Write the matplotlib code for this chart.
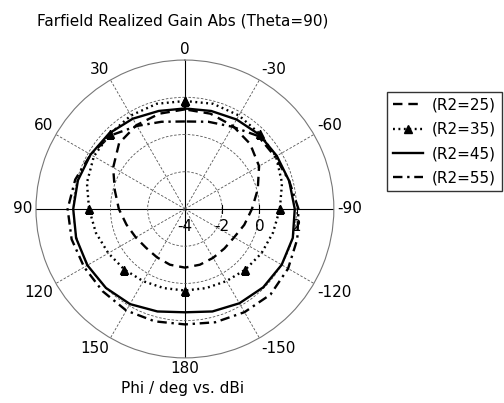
import numpy as np
import matplotlib
matplotlib.use("Agg")
import matplotlib.pyplot as plt
import matplotlib.transforms as mtransforms

# phi in degrees (CST convention: positive counter-clockwise, 0 at top)
phi_deg = [0, 15, 30, 45, 60, 75, 90, 105, 120, 135, 150, 165, 180,
           195, 210, 225, 240, 255, 270, 285, 300, 315, 330, 345, 360]

# realized gain in dBi
gain_r25 = [1.35, 1.3, 1.2, 1.0, 0.45, -0.1, -0.45, -0.75, -0.95, -1.05, -1.0, -0.9, -0.85,
            -0.9, -0.97, -1.0, -0.95, -0.7, -0.4, 0.05, 0.6, 0.95, 1.15, 1.3, 1.35]
gain_r35 = [1.8, 1.85, 1.8, 1.7, 1.65, 1.45, 1.15, 0.95, 0.75, 0.6, 0.48, 0.4, 0.38,
            0.4, 0.47, 0.6, 0.75, 0.9, 1.1, 1.4, 1.65, 1.7, 1.8, 1.85, 1.8]
gain_r45 = [1.4, 1.45, 1.6, 1.75, 1.85, 1.95, 2.0, 2.05, 2.05, 2.0, 1.9, 1.7, 1.55,
            1.7, 1.85, 1.95, 2.0, 2.0, 1.9, 1.8, 1.7, 1.65, 1.55, 1.45, 1.4]
gain_r55 = [0.7, 0.85, 1.15, 1.6, 1.85, 2.1, 2.3, 2.3, 2.25, 2.25, 2.3, 2.25, 2.2,
            2.3, 2.4, 2.5, 2.4, 2.25, 2.1, 1.8, 1.6, 1.55, 1.1, 0.85, 0.7]

labels = ['(R2=25)', '(R2=35)', '(R2=45)', '(R2=55)']

theta_ticks = [0, 30, 60, 90, 120, 150, 180, 210, 240, 270, 300, 330]
theta_labels = ['0', '30', '60', '90', '120', '150', '180',
                '-150', '-120', '-90', '-60', '-30']
r_min, r_max = -4, 4
r_grid = [-2, 0, 2]
r_labels = ['-4', '-2', '0', '2']
r_label_vals = [-4, -2, 0, 2]

plt.rcParams['font.family'] = 'DejaVu Sans'
plt.rcParams['font.size'] = 11

fig = plt.figure(figsize=(5.04, 4.03), dpi=100)
ax = fig.add_axes([0.0714, 0.1117, 0.591, 0.7395], projection='polar')
ax.set_theta_zero_location('N')
ax.set_theta_direction(1)
ax.set_rlim(r_min, r_max)

th = np.deg2rad(phi_deg)
ax.plot(th, gain_r25, color='black', lw=1.7, ls=(0, (4, 2.5)), label=labels[0])
ax.plot(th, gain_r35, color='black', lw=1.7, ls=(0, (0.8, 1.5)), marker='^',
        ms=5.5, markevery=3, label=labels[1])
ax.plot(th, gain_r45, color='black', lw=1.7, ls='-', label=labels[2])
ax.plot(th, gain_r55, color='black', lw=1.7, ls=(0, (4, 2, 1, 2)), label=labels[3])

# grid
ax.set_thetagrids(theta_ticks, [''] * len(theta_ticks))
ax.set_rgrids(r_grid, [''] * len(r_grid))
ax.grid(True, color='#555555', ls=(0, (3, 2)), lw=0.6)
for i, gl in enumerate(ax.xaxis.get_gridlines()):
    if theta_ticks[i] % 90 == 0:
        gl.set_linestyle('-')
        gl.set_color('black')
        gl.set_linewidth(0.8)
ax.spines['polar'].set_color('#777777')
ax.spines['polar'].set_linewidth(0.8)

# angle labels just outside the circle, aligned by quadrant
for t, s in zip(theta_ticks, theta_labels):
    a = np.deg2rad(t)
    dx, dy = -np.sin(a), np.cos(a)
    ha = 'center' if abs(dx) < 0.3 else ('right' if dx < 0 else 'left')
    va = 'center' if abs(dy) < 0.3 else ('bottom' if dy > 0 else 'top')
    ax.annotate(s, xy=(a, r_max), xytext=(2.5 * dx, 2.5 * dy),
                textcoords='offset points', ha=ha, va=va, annotation_clip=False)

# radial tick marks and labels along -90
ax.plot(np.full(len(r_grid), np.deg2rad(270)), r_grid, ls='none', marker='|',
        color='black', ms=6, mew=0.8)
offset = mtransforms.offset_copy(ax.transData, fig=fig, x=0, y=-7, units='points')
for v, s in zip(r_label_vals, r_labels):
    ax.text(np.deg2rad(270), v, s, transform=offset, ha='center', va='top')

fig.text(0.363, 0.948, 'Farfield Realized Gain Abs (Theta=90)', ha='center', va='center')
fig.text(0.363, 0.037, 'Phi / deg vs. dBi', ha='center', va='center')

leg = fig.legend(loc='upper left', bbox_to_anchor=(0.767, 0.7725), frameon=True,
                 fancybox=False, handlelength=2.0, handletextpad=0.55,
                 labelspacing=0.6, borderpad=0.4, borderaxespad=0)
leg.get_frame().set_edgecolor('black')
leg.get_frame().set_linewidth(1.0)

fig.savefig('out.png', dpi=100)
